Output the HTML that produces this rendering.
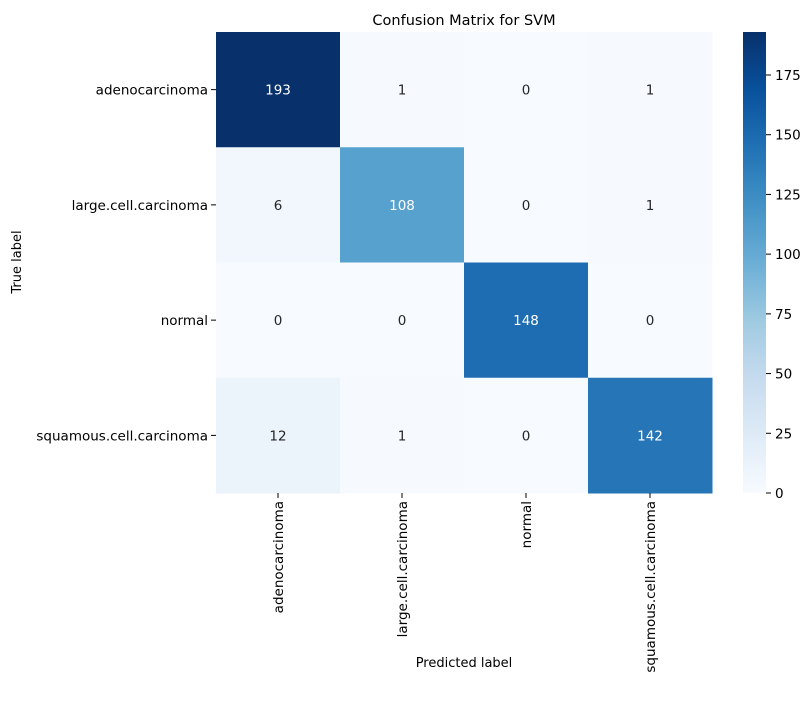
<!DOCTYPE html>
<html><head><meta charset="utf-8"><style>
html,body{margin:0;padding:0;background:#fff;}
svg text{font-family:"DejaVu Sans","Liberation Sans",sans-serif;}
</style></head><body>
<svg id="chart" width="811" height="710" xmlns="http://www.w3.org/2000/svg">
<defs><linearGradient id="cbgrad" x1="0" y1="1" x2="0" y2="0">
<stop offset="0" stop-color="#f7fbff"/><stop offset="0.125" stop-color="#deebf7"/><stop offset="0.25" stop-color="#c6dbef"/><stop offset="0.375" stop-color="#9ecae1"/><stop offset="0.5" stop-color="#6baed6"/><stop offset="0.625" stop-color="#4292c6"/><stop offset="0.75" stop-color="#2171b5"/><stop offset="0.875" stop-color="#08519c"/><stop offset="1" stop-color="#08306b"/>
</linearGradient></defs>
<text x="464" y="25" text-anchor="middle" font-size="14.5">Confusion Matrix for SVM</text>
<g id="cells"></g>
<rect x="743" y="32" width="23" height="461" fill="url(#cbgrad)"/>
<g id="cbticks"></g>
<text x="464" y="667" text-anchor="middle" font-size="13">Predicted label</text>
<text transform="translate(21,262) rotate(-90)" text-anchor="middle" font-size="13">True label</text>
</svg>
<script>
const labels=["adenocarcinoma","large.cell.carcinoma","normal","squamous.cell.carcinoma"];
const row0=[193,1,0,1];
const row1=[6,108,0,1];
const row2=[0,0,148,0];
const row3=[12,1,0,142];
const cbTicks=[0,25,50,75,100,125,150,175];
const matrix=[row0,row1,row2,row3];
const NS="http://www.w3.org/2000/svg";
const X0=216,X1=712,Y0=32,Y1=493;
let vmin=Infinity,vmax=-Infinity;
matrix.forEach(r=>r.forEach(v=>{vmin=Math.min(vmin,v);vmax=Math.max(vmax,v);}));
const cw=(X1-X0)/labels.length,ch=(Y1-Y0)/labels.length;
const stops=["#f7fbff","#deebf7","#c6dbef","#9ecae1","#6baed6","#4292c6","#2171b5","#08519c","#08306b"].map(h=>[1,3,5].map(i=>parseInt(h.substr(i,2),16)));
function color(v){let t=(v-vmin)/(vmax-vmin||1);t=Math.max(0,Math.min(1,t))*8;let i=Math.min(7,Math.floor(t)),f=t-i;const a=stops[i],b=stops[i+1];return "rgb("+a.map((c,k)=>Math.round(c+(b[k]-c)*f)).join(",")+")";}
function mk(tag,attrs,parent){const e=document.createElementNS(NS,tag);for(const k in attrs)e.setAttribute(k,attrs[k]);parent.appendChild(e);return e;}
const svg=document.getElementById("chart"),g=document.getElementById("cells"),cb=document.getElementById("cbticks");
matrix.forEach((r,i)=>r.forEach((v,j)=>{
 const rc=mk("rect",{x:X0+j*cw,y:Y0+i*ch,width:cw+0.5,height:ch+0.5,fill:color(v)},g);
 
 
 const t=mk("text",{x:X0+(j+0.5)*cw,y:Y0+(i+0.5)*ch+5,"text-anchor":"middle","font-size":"13.5",fill:(v-vmin)/(vmax-vmin)>0.5?"#fff":"#262626"},g);
 
 
 t.textContent=v;
}));
labels.forEach((l,i)=>{
 const y=Y0+(i+0.5)*ch;
 mk("line",{x1:X0-5,x2:X0,y1:y,y2:y,stroke:"#000","stroke-width":1},svg);
 const t=mk("text",{x:X0-8,y:y+5,"text-anchor":"end","font-size":"13.5"},svg);
 
 
 t.textContent=l;
 const x=X0+(i+0.5)*cw;
 mk("line",{x1:x,x2:x,y1:Y1,y2:Y1+5,stroke:"#000","stroke-width":1},svg);
 const tx=mk("text",{transform:"translate("+(x+5)+","+(Y1+8)+") rotate(-90)","text-anchor":"end","font-size":"13.5"},svg);
 
 
 tx.textContent=l;
});
cbTicks.forEach(v=>{
 const y=Y1-(v-vmin)/(vmax-vmin)*(Y1-Y0);
 mk("line",{x1:766,x2:771,y1:y,y2:y,stroke:"#000","stroke-width":1},cb);
 const t=mk("text",{x:775,y:y+5,"font-size":"13.5"},cb);
 
 
 t.textContent=v;
});
</script>
</body></html>
